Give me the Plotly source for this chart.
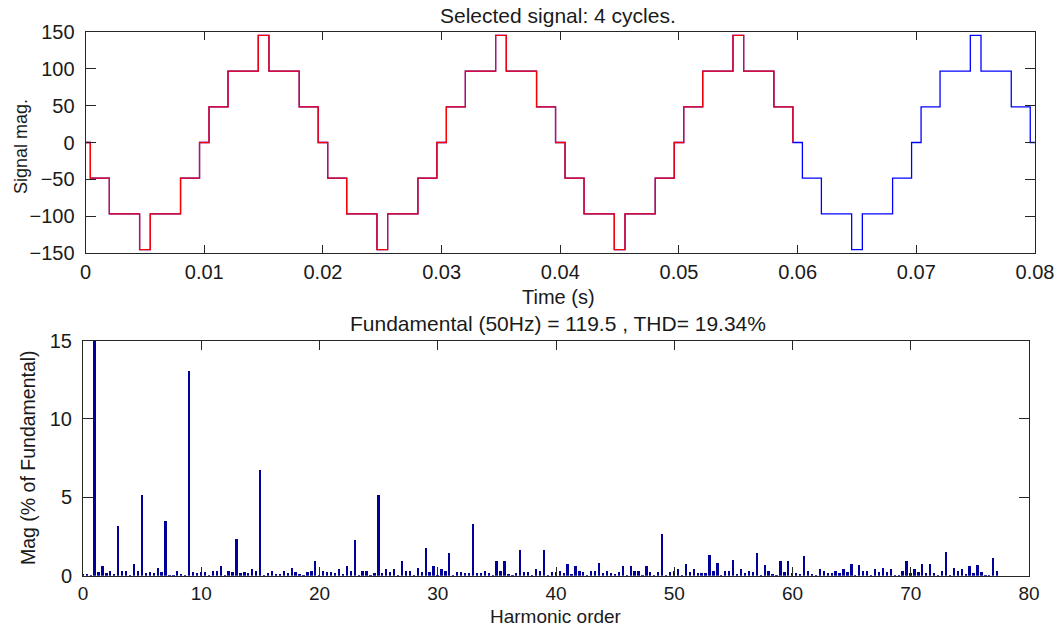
import plotly.graph_objects as go

# ---------------- data ----------------
# Full signal (blue): switching instants (s) and levels (step-after)
full_time = [0, 0.0004, 0.002, 0.00455, 0.00545, 0.008, 0.0096,
             0.0104, 0.012, 0.01455, 0.01545, 0.018, 0.0196,
             0.0204, 0.022, 0.02455, 0.02545, 0.028, 0.0296,
             0.0304, 0.032, 0.03455, 0.03545, 0.038, 0.0396,
             0.0404, 0.042, 0.04455, 0.04545, 0.048, 0.0496,
             0.0504, 0.052, 0.05455, 0.05545, 0.058, 0.0596,
             0.0604, 0.062, 0.06455, 0.06545, 0.068, 0.0696,
             0.0704, 0.072, 0.07455, 0.07545, 0.078, 0.0796, 0.08]
full_level = [0, -48.3, -96.6, -144.9, -96.6, -48.3, 0,
              48.3, 96.6, 144.9, 96.6, 48.3, 0,
              -48.3, -96.6, -144.9, -96.6, -48.3, 0,
              48.3, 96.6, 144.9, 96.6, 48.3, 0,
              -48.3, -96.6, -144.9, -96.6, -48.3, 0,
              48.3, 96.6, 144.9, 96.6, 48.3, 0,
              -48.3, -96.6, -144.9, -96.6, -48.3, 0,
              48.3, 96.6, 144.9, 96.6, 48.3, 0, 0]

# Selected signal (red)
sel_time = [0, 0.0004, 0.002, 0.00455, 0.00545, 0.008, 0.0096,
            0.0104, 0.012, 0.01455, 0.01545, 0.018, 0.0196,
            0.0204, 0.022, 0.02455, 0.02545, 0.028, 0.0296,
            0.0304, 0.032, 0.03455, 0.03545, 0.038, 0.0396,
            0.0404, 0.042, 0.04455, 0.04545, 0.048, 0.0496,
            0.0504, 0.052, 0.05455, 0.05545, 0.058, 0.0596]
sel_level = [0, -48.3, -96.6, -144.9, -96.6, -48.3, 0,
             48.3, 96.6, 144.9, 96.6, 48.3, 0,
             -48.3, -96.6, -144.9, -96.6, -48.3, 0,
             48.3, 96.6, 144.9, 96.6, 48.3, 0,
             -48.3, -96.6, -144.9, -96.6, -48.3, 0,
             48.3, 96.6, 144.9, 96.6, 48.3, 0]

# Spectrum: magnitude (% of fundamental), bins every 1/3 harmonic from 0
mag = [
    0.15, 0.15, 0.08, 100, 0.3, 0.62, 0.23, 0.36, 0.17, 3.17,      # 0 - 3
    0.36, 0.36, 0.04, 0.81, 0.36, 5.21, 0.23, 0.3, 0.23, 0.55,     # 3.33 - 6.33
    0.3, 3.49, 0.04, 0.04, 0.36, 0.17, 0.1, 13.1, 0.3, 0.23,       # 6.67 - 9.67
    0.3, 0.3, 0.1, 0.36, 0.36, 0.68, 0.04, 0.36, 0.3, 2.4,         # 10 - 13
    0.23, 0.3, 0.23, 0.43, 0.36, 6.8, 0.04, 0.23, 0.36, 0.17,      # 13.33 - 16.33
    0.17, 0.36, 0.23, 0.55, 0.3, 0.17, 0.1, 0.3, 0.36, 0.94,       # 16.67 - 19.67
    0.1, 0.36, 0.3, 0.3, 0.23, 0.43, 0.17, 0.68, 0.36, 2.34,       # 20 - 23
    0.04, 0.36, 0.36, 0.04, 0.23, 5.2, 0.23, 0.49, 0.3, 0.43,      # 23.33 - 26.33
    0.04, 0.94, 0.36, 0.36, 0.1, 0.55, 0.3, 1.77, 0.3, 0.62,       # 26.67 - 29.67
    0.1, 0.49, 0.36, 1.51, 0.04, 0.3, 0.3, 0.23, 0.23, 3.36,       # 30 - 33
    0.23, 0.23, 0.36, 0.23, 0.04, 1.0, 0.36, 0.94, 0.17, 0.1,      # 33.33 - 36.33
    0.23, 1.64, 0.3, 0.3, 0.1, 0.49, 0.36, 1.7, 0.1, 0.3,          # 36.67 - 39.67
    0.3, 0.36, 0.23, 0.81, 0.17, 0.62, 0.36, 0.3, 0.04, 0.36,      # 40 - 43
    0.36, 0.87, 0.23, 0.36, 0.23, 0.17, 0.3, 0.68, 0.04, 0.62,     # 43.33 - 46.33
    0.36, 0.36, 0.1, 0.62, 0.3, 0.1, 0.3, 2.72, 0.1, 0.3,          # 46.67 - 49.67
    0.36, 0.49, 0.04, 0.81, 0.3, 0.49, 0.23, 0.23, 0.23, 1.38,     # 50 - 53
    0.36, 0.87, 0.04, 0.36, 0.36, 1.06, 0.17, 0.49, 0.23, 0.36,    # 53.33 - 56.33
    0.3, 1.45, 0.1, 0.74, 0.36, 0.17, 0.1, 0.94, 0.3, 1.0,         # 56.67 - 59.67
    0.23, 0.23, 0.17, 1.26, 0.36, 0.17, 0.04, 0.49, 0.36, 0.23,    # 60 - 63
    0.23, 0.36, 0.23, 0.43, 0.3, 0.81, 0.04, 0.74, 0.36, 0.36,     # 63.33 - 66.33
    0.1, 0.43, 0.3, 0.55, 0.3, 0.43, 0.1, 0.04, 0.36, 0.94,        # 66.67 - 69.67
    0.2, 0.49, 0.3, 0.81, 0.23, 0.81, 0.23, 0.1, 0.36, 1.57,       # 70 - 73
    0.04, 0.55, 0.36, 0.43, 0.17, 0.68, 0.23, 0.74, 0.3, 0.1,      # 73.33 - 76.33
    0.1, 1.13, 0.36,                                               # 76.67 - 77.33
]
bin_step = 1 / 3
harmonic_order = [round(i * bin_step, 4) for i in range(len(mag))]

time_ticks = [0, 0.01, 0.02, 0.03, 0.04, 0.05, 0.06, 0.07, 0.08]
time_tick_text = ["0", "0.01", "0.02", "0.03", "0.04", "0.05", "0.06", "0.07", "0.08"]
sig_ticks = [-150, -100, -50, 0, 50, 100, 150]
harm_ticks = [0, 10, 20, 30, 40, 50, 60, 70, 80]
mag_ticks = [0, 5, 10, 15]

title_top = "Selected signal: 4 cycles."
title_bottom = "Fundamental (50Hz) = 119.5 , THD= 19.34%"

# ---------------- figure ----------------
W, H = 1063, 628
FONT = "Liberation Sans, Arial, Helvetica, sans-serif"
TXT = "#1a1a1a"
AX = "#262626"

def px(x):
    return x / W

def py(y):
    return 1 - y / H

fig = go.Figure()

fig.add_trace(go.Scatter(x=full_time, y=full_level, mode="lines",
                         line=dict(color="rgb(0,0,255)", width=1.3, shape="hv"),
                         xaxis="x", yaxis="y", showlegend=False))
fig.add_trace(go.Scatter(x=sel_time, y=sel_level, mode="lines",
                         line=dict(color="rgb(255,0,0)", width=1.3, shape="hv"),
                         xaxis="x", yaxis="y", showlegend=False))
fig.add_trace(go.Bar(x=harmonic_order, y=mag, width=0.15,
                     marker=dict(color="rgb(0,0,155)", line=dict(width=0)),
                     xaxis="x2", yaxis="y2", showlegend=False))

common = dict(showgrid=False, zeroline=False, showline=True, linecolor=AX,
              linewidth=1, mirror="ticks", ticks="inside", tickcolor=AX,
              tickwidth=1, automargin=False)

def tf(size):
    return dict(family=FONT, size=size, color=TXT)

fig.update_layout(
    width=W, height=H,
    margin=dict(l=0, r=0, t=0, b=0),
    paper_bgcolor="white", plot_bgcolor="white",
    bargap=0,
    xaxis=dict(domain=[px(85.6), px(1035)], range=[0, 0.08],
               tickvals=time_ticks, ticktext=time_tick_text,
               ticklen=8, ticklabelstandoff=1, anchor="y",
               tickfont=tf(20), **common),
    yaxis=dict(domain=[py(253.3), py(31.7)], range=[-150, 150],
               tickvals=sig_ticks, ticklen=10, ticklabelstandoff=6,
               anchor="x", tickfont=tf(20), **common),
    xaxis2=dict(domain=[px(83), px(1029)], range=[0, 80],
                tickvals=harm_ticks, ticklen=9, ticklabelstandoff=0,
                anchor="y2", tickfont=tf(19), **common),
    yaxis2=dict(domain=[py(575.7), py(340.5)], range=[0, 15],
                tickvals=mag_ticks, ticklen=10, ticklabelstandoff=6,
                anchor="x2", tickfont=tf(20), **common),
)

def txt(x, y, s, size=21, angle=0):
    fig.add_annotation(x=px(x), y=py(y), xref="paper", yref="paper",
                       text=s, showarrow=False, textangle=angle,
                       xanchor="center", yanchor="middle", borderpad=0,
                       font=dict(family=FONT, size=size, color=TXT))

txt(558, 15, title_top)
txt(558, 297, "Time (s)", size=20)
txt(558, 323, title_bottom)
txt(556, 616, "Harmonic order", size=19)
txt(21, 147, "Signal mag.", size=18, angle=-90)
txt(28, 458, "Mag (% of Fundamental)", size=19.5, angle=-90)

fig.write_html(
    "out.html",
    config={"displayModeBar": False},
    post_script="document.body.style.margin='0';document.body.style.padding='0';",
)
